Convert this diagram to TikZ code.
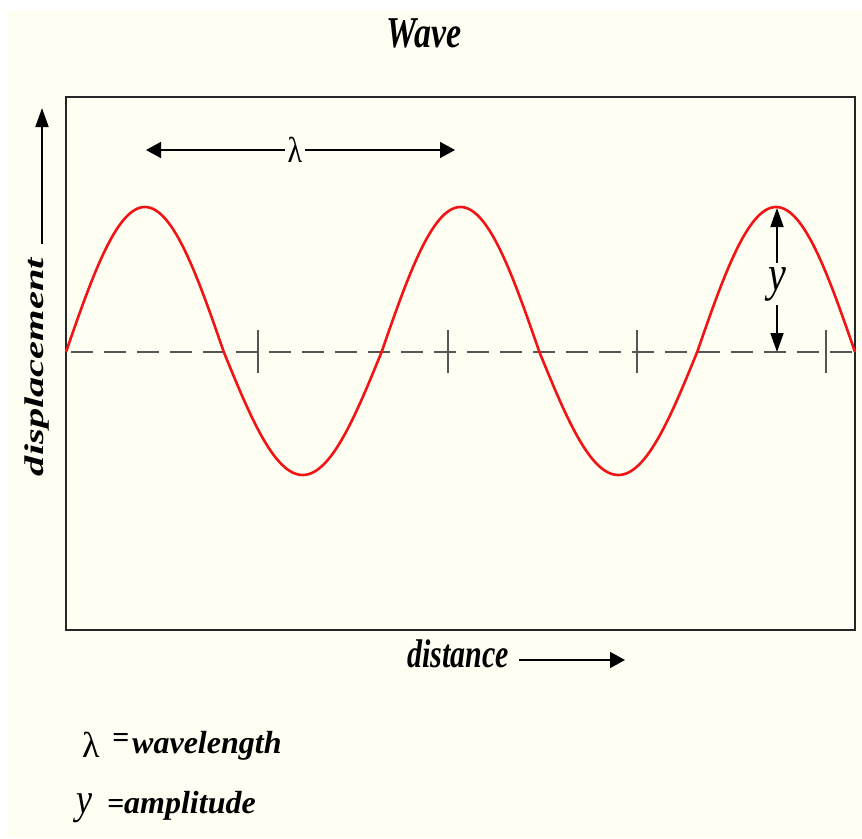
\documentclass[tikz,border=0pt]{standalone}
\usepackage{fontspec}
\setmainfont{Liberation Serif}
\usetikzlibrary{arrows.meta}
\definecolor{cream}{RGB}{255,254,242}
\definecolor{wavered}{RGB}{240,20,20}
\definecolor{dashgray}{RGB}{85,85,85}
\begin{document}
\begin{tikzpicture}[x=1pt,y=-1pt,
  lbl/.style={inner sep=0pt, font=\bfseries\itshape},
  harrow/.style={line width=1.8pt, -{Triangle[length=15pt,width=16pt]}},
  varrow/.style={line width=1.8pt, -{Triangle[length=19pt,width=13pt]}},
  framebox/.style={line width=2.2pt, draw=black!85},
  baseline/.style={draw=dashgray, line width=2pt, dash pattern=on 22pt off 11pt, dash phase=28pt},
  tick/.style={draw=dashgray, line width=1.6pt},
  wave/.style={draw=wavered, line width=2.6pt, line join=round},
  eqsign/.style={inner sep=0pt, font=\bfseries\fontsize{30}{30}\selectfont}
]
\useasboundingbox (0,0) rectangle (862,838);
\fill[white] (0,0) rectangle (862,838);
\fill[cream] (7,10) rectangle (862,838);

% title
\node[lbl, anchor=base] (title) at (424,47) {\fontsize{44}{48}\selectfont\scalebox{0.77}[1]{Wave}};

% frame
\draw[framebox] (66,97) rectangle (855,630);

% dashed axis and ticks
\draw[baseline] (66,352) -- (855,352);
\foreach \tx in {258,448,637,826} \draw[tick] (\tx,330) -- (\tx,373);

% wave
\draw[wave] plot[domain=0:900, samples=301]
  ({66+0.876667*\x}, {352-(sin(\x)>0 ? 145 : 123)*sin(\x)});

% wavelength arrow
\node[inner sep=3pt] (lam) at (295,150) {\fontsize{30}{30}\selectfont\scalebox{1}[1.2]{λ}};
\coordinate (lamL) at (146,150);
\coordinate (lamR) at (455,150);
\draw[harrow] (lam) -- (lamL);
\draw[harrow] (lam) -- (lamR);

% amplitude arrow
\node[inner sep=4pt] (ylab) at (777,284) {\fontsize{40}{40}\selectfont\itshape\scalebox{1}[1.25]{y}};
\coordinate (ypk) at (777,208);
\coordinate (ybase) at (777,352);
\draw[varrow] (ylab.north) -- (ypk);
\draw[varrow] (ylab.south) -- (ybase);

% displacement label and arrow
\node[lbl, rotate=90] (disp) at (37,367) {\fontsize{27}{27}\selectfont\scalebox{1.5}[1]{displacement}};
\coordinate (dtip) at (42,108);
\path (dtip |- disp.east) coordinate (dstart);
\draw[varrow] ([yshift=14pt]dstart) -- (dtip);

% distance label and arrow
\node[lbl, anchor=base] (dist) at (458,667) {\fontsize{40}{40}\selectfont\scalebox{0.75}[1]{distance}};
\coordinate (dend) at (625,660);
\path (dist.east |- dend) coordinate (dstart2);
\draw[harrow] ([xshift=10pt]dstart2) -- (dend);

% legend
\node[anchor=base west, inner sep=0pt] (lamleg) at (82,757) {\fontsize{36}{36}\selectfont λ};
\node[eqsign] (eq1) at (121,740) {=};
\node[lbl, anchor=base west] (wl) at (132,753) {\fontsize{32}{32}\selectfont wavelength};
\node[anchor=base west, inner sep=0pt] (yleg) at (76,813) {\fontsize{36}{36}\selectfont\itshape\scalebox{1}[1.2]{y}};
\node[eqsign] (eq2) at (116,806) {=};
\node[lbl, anchor=base west] (amp) at (124,813) {\fontsize{32}{32}\selectfont amplitude};
\end{tikzpicture}
\end{document}
